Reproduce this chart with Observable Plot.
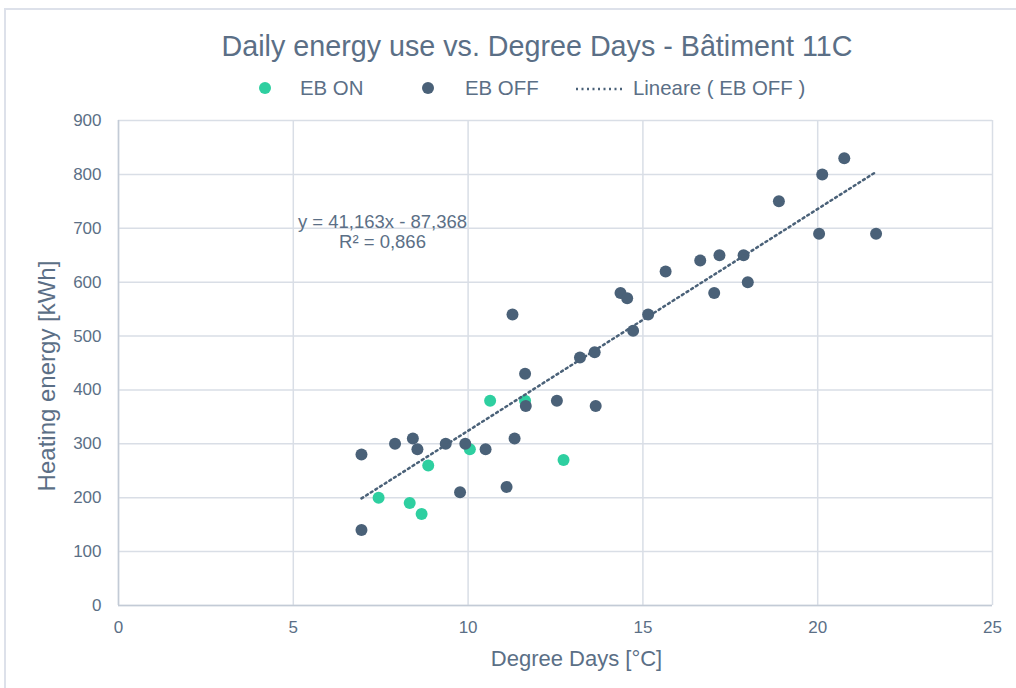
<!DOCTYPE html>
<html>
<head>
<meta charset="utf-8">
<script src="https://cdn.jsdelivr.net/npm/d3@7"></script>
<script src="https://cdn.jsdelivr.net/npm/@observablehq/plot@0.6"></script>
<style>
  html, body { margin: 0; padding: 0; background: #ffffff; }
  body { font-family: "Liberation Sans", Arial, sans-serif; color: #5b6f86; }
  #wrap { position: relative; width: 1016px; height: 688px; overflow: hidden; }
  #frame { position: absolute; left: 4px; top: 8px; right: -10px; bottom: -10px;
           border-left: 2px solid #dde1ea; border-top: 2px solid #dde1ea; }
  #header { position: relative; width: 1016px; height: 100px; }
  #title { position: absolute; left: 537px; top: 30px; transform: translateX(-50%);
           white-space: nowrap; font-size: 28.7px; line-height: 32px; color: #5b6f86; }
  .leg { position: absolute; top: 77px; font-size: 20.4px; line-height: 22px; white-space: nowrap; color: #5b6f86; }
  .dot { position: absolute; width: 12px; height: 12px; border-radius: 50%; top: 82px; }
  #chart { position: relative; }
</style>
</head>
<body>
<div id="wrap">
  <div id="frame"></div>
  <div id="header">
    <div id="title"></div>
    <div id="legend"></div>
  </div>
  <div id="chart"></div>
</div>
<script>
// ---- data ----
const titleText = "Daily energy use vs. Degree Days - Bâtiment 11C";
const xLabel = "Degree Days [°C]";
const yLabel = "Heating energy [kWh]";
const seriesNames = ["EB ON", "EB OFF", "Lineare ( EB OFF )"];

const onX = [7.44, 8.33, 8.67, 8.86, 10.05, 10.63, 11.63, 12.73];
const onY = [200, 190, 170, 260, 290, 380, 380, 270];

const offX = [6.95, 6.95, 7.91, 8.42, 8.55, 9.36, 9.77, 9.92, 10.50, 11.10, 11.27, 11.33, 11.63, 11.65, 12.54, 13.20, 13.62, 13.65, 14.36, 14.55, 14.72, 15.15, 15.65, 16.64, 17.19, 17.04, 17.88, 18.00, 18.89, 20.04, 20.13, 20.76, 21.67];
const offY = [280, 140, 300, 310, 290, 300, 210, 300, 290, 220, 540, 310, 430, 370, 380, 460, 470, 370, 580, 570, 510, 540, 620, 640, 650, 580, 650, 600, 750, 690, 800, 830, 690];

const trendSlope = [41.163];
const trendIntercept = [-87.368];
const trendR2 = [0.866];

const xTicks = [0, 5, 10, 15, 20, 25];
const yTicks = [0, 100, 200, 300, 400, 500, 600, 700, 800, 900];

// ---- colours ----
const cOn = "#2ecfa0";
const cOff = "#4a6178";
const cText = "#5b6f86";
const cGrid = "#d9dee6";
const cAxis = "#c3cbd6";

// ---- header (title + legend) ----
document.getElementById("title").textContent = titleText;
const legend = document.getElementById("legend");
const legItems = [
  {type: "dot", color: cOn, cx: 265, tx: 300, label: seriesNames[0]},
  {type: "dot", color: cOff, cx: 428, tx: 465, label: seriesNames[1]},
  {type: "line", color: cOff, cx: 575, tx: 633, label: seriesNames[2]}
];
for (const it of legItems) {
  if (it.type === "dot") {
    const d = document.createElement("div");
    d.className = "dot";
    d.style.left = (it.cx - 6) + "px";
    d.style.background = it.color;
    legend.appendChild(d);
  } else {
    const ns = "http://www.w3.org/2000/svg";
    const s = document.createElementNS(ns, "svg");
    s.setAttribute("width", 52); s.setAttribute("height", 6);
    s.style.position = "absolute"; s.style.left = it.cx + "px"; s.style.top = "86px";
    const l = document.createElementNS(ns, "line");
    l.setAttribute("x1", 1); l.setAttribute("x2", 50); l.setAttribute("y1", 3); l.setAttribute("y2", 3);
    l.setAttribute("stroke", it.color); l.setAttribute("stroke-width", 2.5);
    l.setAttribute("stroke-dasharray", "2,3.5");
    s.appendChild(l);
    legend.appendChild(s);
  }
  const t = document.createElement("div");
  t.className = "leg";
  t.style.left = it.tx + "px";
  t.textContent = it.label;
  legend.appendChild(t);
}

// ---- tables ----
const onData = onX.map((x, i) => ({x, y: onY[i]}));
const offData = offX.map((x, i) => ({x, y: offY[i]}));
const xmin = d3.min(offX), xmax = d3.max(offX);
const trend = [xmin, xmax].map(x => ({x, y: trendSlope[0] * x + trendIntercept[0]}));
const fmt = v => String(Math.abs(v)).replace(".", ",");
const eqText = `y = ${fmt(trendSlope[0])}x ${trendIntercept[0] < 0 ? "-" : "+"} ${fmt(trendIntercept[0])}\nR² = ${fmt(trendR2[0])}`;

const chart = Plot.plot({
  width: 1016,
  height: 588,
  marginLeft: 118,
  marginRight: 24,
  marginTop: 20,
  marginBottom: 83,
  style: {fontFamily: "'Liberation Sans', Arial, sans-serif", fontSize: "17px", color: cText, background: "transparent"},
  x: {domain: [0, 25]},
  y: {domain: [0, 900]},
  marks: [
    Plot.gridX(xTicks, {stroke: cGrid, strokeOpacity: 1, strokeWidth: 1.5}),
    Plot.gridY(yTicks, {stroke: cGrid, strokeOpacity: 1, strokeWidth: 1.5}),
    Plot.ruleX([0], {stroke: cAxis, strokeWidth: 1.5}),
    Plot.ruleY([0], {stroke: cAxis, strokeWidth: 1.5}),
    Plot.axisX(xTicks, {tickSize: 0, tickPadding: 15, label: null, fontSize: 17}),
    Plot.axisY(yTicks, {tickSize: 0, tickPadding: 17, label: null, fontSize: 17}),
    Plot.dot(onData, {x: "x", y: "y", r: 6, fill: cOn}),
    Plot.dot(offData, {x: "x", y: "y", r: 6, fill: cOff}),
    Plot.line(trend, {x: "x", y: "y", stroke: cOff, strokeWidth: 2.5, strokeDasharray: "2,3.5"}),
    Plot.text([eqText], {frameAnchor: "top-left", dx: 264, dy: 111, textAnchor: "middle", lineAnchor: "middle", lineHeight: 1.1, fontSize: 18.5, fill: cText}),
    Plot.text([xLabel], {frameAnchor: "bottom", dx: 21, dy: 53, lineAnchor: "middle", textAnchor: "middle", fontSize: 22, fill: cText}),
    Plot.text([yLabel], {frameAnchor: "left", dx: -71, dy: 13, rotate: -90, lineAnchor: "middle", textAnchor: "middle", fontSize: 24, fill: cText})
  ]
});
document.getElementById("chart").appendChild(chart);
</script>
</body>
</html>
